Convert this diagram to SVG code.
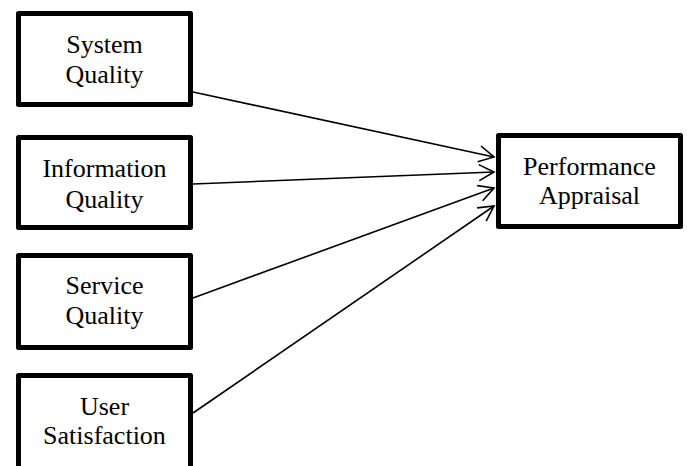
<svg xmlns="http://www.w3.org/2000/svg" width="687" height="466" viewBox="0 0 687 466">
<style>
.box{fill:#fff;stroke:#000;stroke-width:5;stroke-linejoin:round}
.t{font-family:"Liberation Serif","Times New Roman",serif;font-size:26px;fill:#000;text-anchor:middle}
.c{stroke:#000;stroke-width:1.6;fill:none}
</style>
<defs>
<marker id="ah" markerWidth="20" markerHeight="20" viewBox="-16 -10 20 20" refX="0" refY="0" orient="auto" markerUnits="userSpaceOnUse">
<path d="M-15,-8 L0,0 L-15,8" fill="none" stroke="#000" stroke-width="1.6"/>
</marker>
</defs>
<rect width="687" height="466" fill="#fff"/>
<g id="connectors">
<line class="c" x1="193" y1="92" x2="494" y2="157" marker-end="url(#ah)"/>
<line class="c" x1="193" y1="184" x2="494" y2="172" marker-end="url(#ah)"/>
<line class="c" x1="193" y1="298" x2="494" y2="188" marker-end="url(#ah)"/>
<line class="c" x1="193" y1="413" x2="494" y2="206" marker-end="url(#ah)"/>
</g>
<g id="system-quality">
<rect class="box" x="18.5" y="13.5" width="172" height="91"/>
<text class="t" x="104.5" y="53">System</text>
<text class="t" x="104.5" y="83">Quality</text>
</g>
<g id="information-quality">
<rect class="box" x="18.5" y="137.5" width="172" height="90"/>
<text class="t" x="104.5" y="177">Information</text>
<text class="t" x="104.5" y="208">Quality</text>
</g>
<g id="service-quality">
<rect class="box" x="18.5" y="255.5" width="172" height="92"/>
<text class="t" x="104.5" y="294">Service</text>
<text class="t" x="104.5" y="324">Quality</text>
</g>
<g id="user-satisfaction">
<rect class="box" x="18.5" y="375.5" width="172" height="94"/>
<text class="t" x="104.5" y="415">User</text>
<text class="t" x="104.5" y="444">Satisfaction</text>
</g>
<g id="performance-appraisal">
<rect class="box" x="498.5" y="135.5" width="182" height="91"/>
<text class="t" x="589.5" y="175">Performance</text>
<text class="t" x="589.5" y="204">Appraisal</text>
</g>
</svg>
